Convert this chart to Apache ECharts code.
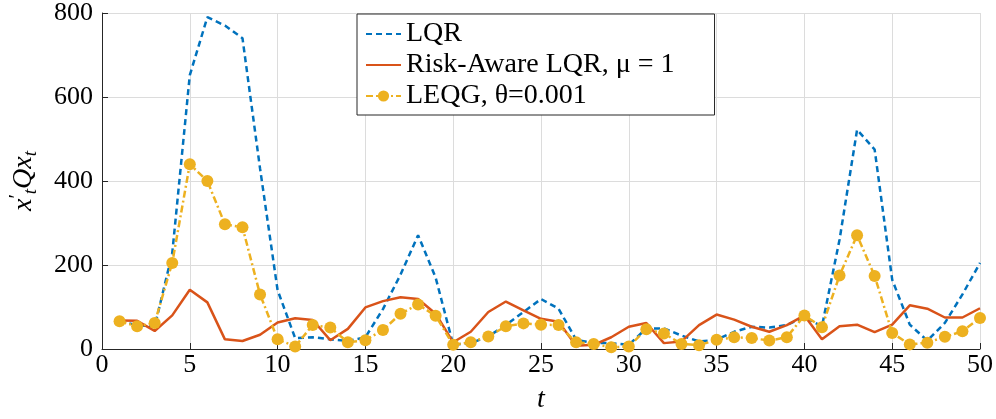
<!DOCTYPE html>
<html>
<head>
<meta charset="utf-8">
<script src="https://cdn.jsdelivr.net/npm/echarts@6/dist/echarts.min.js"></script>
<style>
html,body{margin:0;padding:0;background:#fff;}
#chart{width:996px;height:419px;}
</style>
</head>
<body>
<div id="chart"></div>
<script>
const steps = [1,2,3,4,5,6,7,8,9,10,11,12,13,14,15,16,17,18,19,20,21,22,23,24,25,26,27,28,29,30,31,32,33,34,35,36,37,38,39,40,41,42,43,44,45,46,47,48,49,50];
const lqr = [66,57,53,228,652,790,770,740,430,140,26,28,23,19,28,95,177,271,170,10,14,30,57,88,119,96,22,14,14,10,49,49,32,18,22,41,53,51,57,76,54,260,522,475,165,58,20,62,130,205];
const riskAware = [68,67,43,80,141,111,23,19,34,63,73,69,21,48,99,114,123,119,84,16,41,88,113,92,72,65,8,10,28,53,62,14,18,57,82,70,53,41,57,80,23,54,58,40,58,104,96,75,75,97];
const leqg = [66,54,62,205,440,400,297,290,130,23,6,57,51,16,21,45,84,106,79,10,16,30,54,61,58,57,16,12,4,6,47,37,12,9,22,28,26,20,28,80,52,175,271,174,38,11,15,29,42,74];
const xTicks = [0,5,10,15,20,25,30,35,40,45,50];
const yTicks = [0,200,400,600,800];
const seriesNames = ['LQR','Risk-Aware LQR, \u03bc = 1','LEQG, \u03b8=0.001'];

const FONT = 'Liberation Serif';
const pair = arr => steps.map((t,i)=>[t,arr[i]]);

const chart = echarts.init(document.getElementById('chart'), null, {renderer:'canvas'});
chart.setOption({
  animation:false,
  backgroundColor:'#ffffff',
  grid:{left:101.5,right:16,top:10.5,bottom:66.5},
  legend:{
    orient:'vertical',
    left:357, top:14,
    padding:[6,40,5,8],
    itemGap:3,
    itemWidth:35, itemHeight:14,
    borderColor:'#262626', borderWidth:1,
    backgroundColor:'#ffffff',
    textStyle:{fontFamily:FONT,fontSize:28,color:'#000',lineHeight:28},
    data:[
      {name:seriesNames[0], itemStyle:{opacity:0}},
      {name:seriesNames[1], itemStyle:{opacity:0}},
      {name:seriesNames[2]}
    ]
  },
  xAxis:{
    type:'value', min:xTicks[0], max:xTicks[xTicks.length-1], interval:5,
    name:'t', nameLocation:'middle', nameGap:37,
    nameTextStyle:{fontFamily:FONT,fontSize:28,fontStyle:'italic',color:'#000'},
    axisLine:{lineStyle:{color:'#262626',width:1}},
    axisTick:{inside:true,length:6,lineStyle:{color:'#262626'}},
    axisLabel:{fontFamily:FONT,fontSize:26,color:'#000',margin:3,
      formatter:v=>xTicks.includes(v)?String(v):''},
    splitLine:{show:true,lineStyle:{color:'#dcdcdc',width:1}}
  },
  yAxis:{
    type:'value', min:yTicks[0], max:yTicks[yTicks.length-1], interval:200,
    name:'{i|x}{p|\u2032}{s|t}{i|Qx}{s|t}', nameLocation:'middle', nameGap:62, nameRotate:90,
    nameTextStyle:{
      fontFamily:FONT,color:'#000',
      rich:{
        i:{fontFamily:FONT,fontSize:28,fontStyle:'italic',lineHeight:32,verticalAlign:'middle',color:'#000'},
        p:{fontFamily:FONT,fontSize:20,lineHeight:32,verticalAlign:'top',color:'#000'},
        s:{fontFamily:FONT,fontSize:19,fontStyle:'italic',lineHeight:32,verticalAlign:'bottom',color:'#000'}
      }
    },
    axisLine:{show:true,lineStyle:{color:'#262626',width:1}},
    axisTick:{show:true,inside:true,length:6,lineStyle:{color:'#262626'}},
    axisLabel:{fontFamily:FONT,fontSize:26,color:'#000',margin:9},
    splitLine:{show:true,lineStyle:{color:'#dcdcdc',width:1}}
  },
  series:[
    {
      name:seriesNames[0], type:'line', data:pair(lqr),
      symbol:'none', z:3,
      lineStyle:{color:'#0072BD',width:2.5,type:[6,4]},
      itemStyle:{color:'#0072BD'}
    },
    {
      name:seriesNames[1], type:'line', data:pair(riskAware),
      symbol:'none', z:4,
      lineStyle:{color:'#D95319',width:2.5,type:'solid'},
      itemStyle:{color:'#D95319'}
    },
    {
      name:seriesNames[2], type:'line', data:pair(leqg),
      symbol:'circle', symbolSize:12, z:5,
      lineStyle:{color:'#EDB120',width:2.5,type:[7,3,2,3]},
      itemStyle:{color:'#EDB120'}
    }
  ]
});
</script>
</body>
</html>
